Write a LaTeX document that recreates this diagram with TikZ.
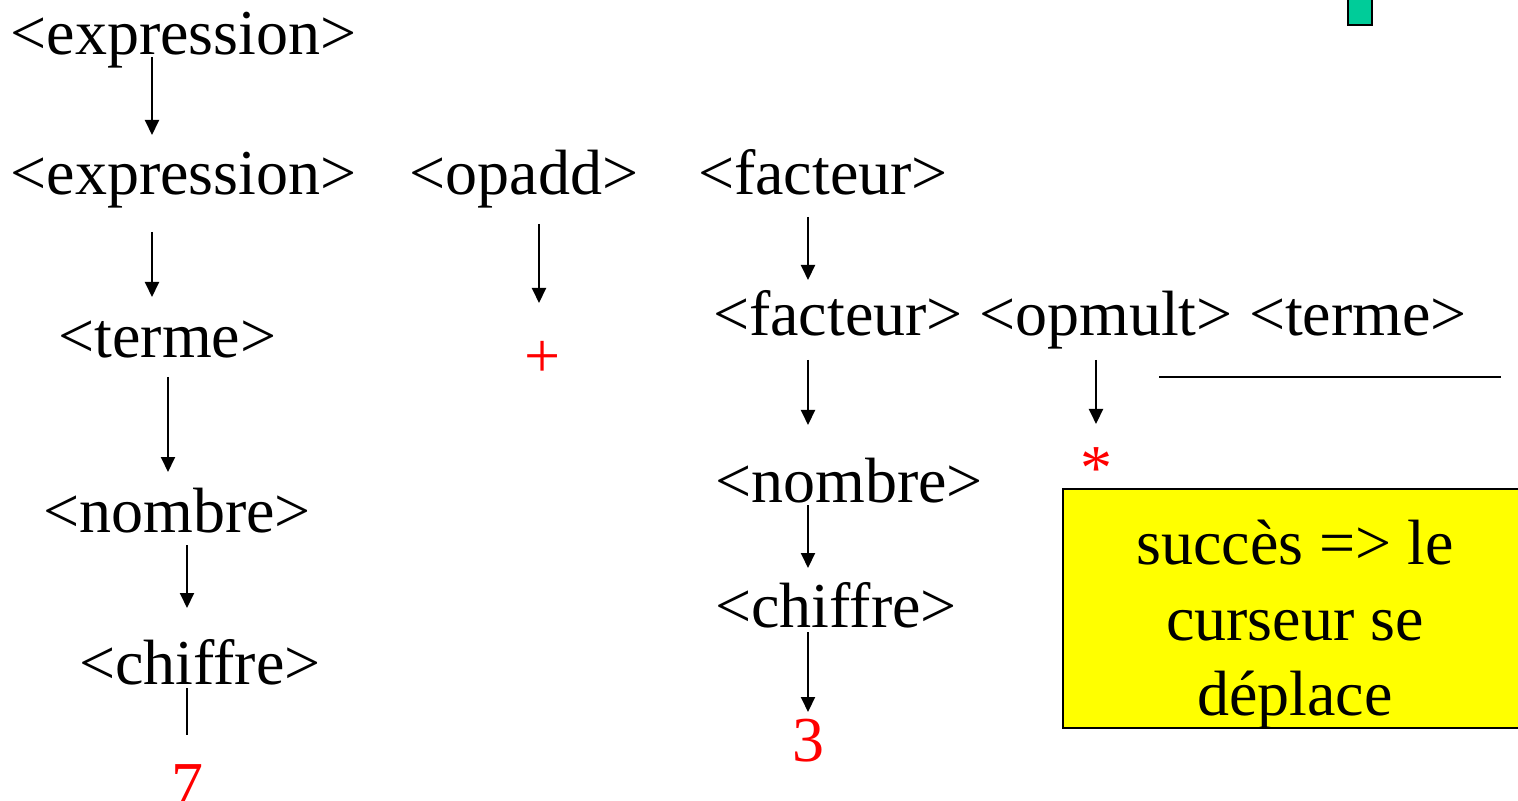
\documentclass[tikz,border=0pt]{standalone}
\usepackage{fontspec}
\setmainfont{Liberation Serif}
\usetikzlibrary{arrows.meta}
\definecolor{markgreen}{HTML}{00CC99}
\definecolor{notefill}{HTML}{FFFF00}

\begin{document}
\begin{tikzpicture}[x=0.5pt,y=-0.5pt,
    nt node/.style={inner sep=0pt,anchor=base,font=\fontsize{32}{37.75}\selectfont},
    t node/.style={nt node,text=red},
    arr/.style={line width=1pt,-{Triangle[length=7.5pt,width=7pt]}},
    link/.style={line width=1pt}]
    \useasboundingbox (0,0) rectangle (1518,801);

    % left branch
    \node[nt node] (e1) at (183.5,55) {<expression>};
    \node[nt node] (e2) at (183.5,195) {<expression>};
    \node[nt node] (t1) at (167.5,358) {<terme>};
    \node[nt node] (n1) at (177,532) {<nombre>};
    \node[nt node] (c1) at (200,684) {<chiffre>};
    \node[t node] (seven) at (187,806) {7};

    % middle
    \node[nt node] (add) at (524,195) {<opadd>};
    \node[t node] (plus) at (543,378) {+};

    % right branch
    \node[nt node] (f1) at (823,195) {<facteur>};
    \node[nt node] (f2) at (838,336) {<facteur>};
    \node[nt node] (mult) at (1106,336) {<opmult>};
    \node[nt node] (t2) at (1358,336) {<terme>};
    \node[t node,anchor=north] (star) at (1096,447) {*};
    \node[nt node] (n2) at (849,502) {<nombre>};
    \node[nt node] (c2) at (836,627) {<chiffre>};
    \node[t node] (three) at (808,761) {3};

    \draw[arr] ([shift={(-31.5,2)}]e1.base) -- ([shift={(-31.5,-60)}]e2.base);
    \draw[arr] ([shift={(-31.5,37)}]e2.base) -- ([shift={(-15.5,-61)}]t1.base);
    \draw[arr] ([shift={(0.5,19)}]t1.base) -- ([shift={(-9,-60)}]n1.base);
    \draw[arr] ([shift={(10,13)}]n1.base) -- ([shift={(-13,-76)}]c1.base);
    \draw[link] ([shift={(-13,4)}]c1.base) -- ([shift={(0,-71)}]seven.base);
    \draw[arr] ([shift={(15,29)}]add.base) -- ([shift={(-4,-75)}]plus.base);
    \draw[arr] ([shift={(-15,22)}]f1.base) -- ([shift={(-30,-56)}]f2.base);
    \draw[arr] ([shift={(-30,24)}]f2.base) -- ([shift={(-41,-77)}]n2.base);
    \draw[arr] ([shift={(-10,24)}]mult.base) -- ([shift={(0,-23)}]star.north);
    \draw[arr] ([shift={(-41,3)}]n2.base) -- ([shift={(-28,-59)}]c2.base);
    \draw[arr] ([shift={(-28,5)}]c2.base) -- ([shift={(0,-49)}]three.base);

    \draw[link] (1159,377) -- (1501,377);

    % note and marker
    \draw[line width=0.75pt,fill=notefill] (1063,489) rectangle (1530,728);
    \node[nt node,anchor=north,align=center] (note) at (1295,520) {succès => le\\curseur se\\déplace};
    \draw[line width=1pt,fill=markgreen] (1348,-5) rectangle (1372,25);
\end{tikzpicture}
\end{document}
